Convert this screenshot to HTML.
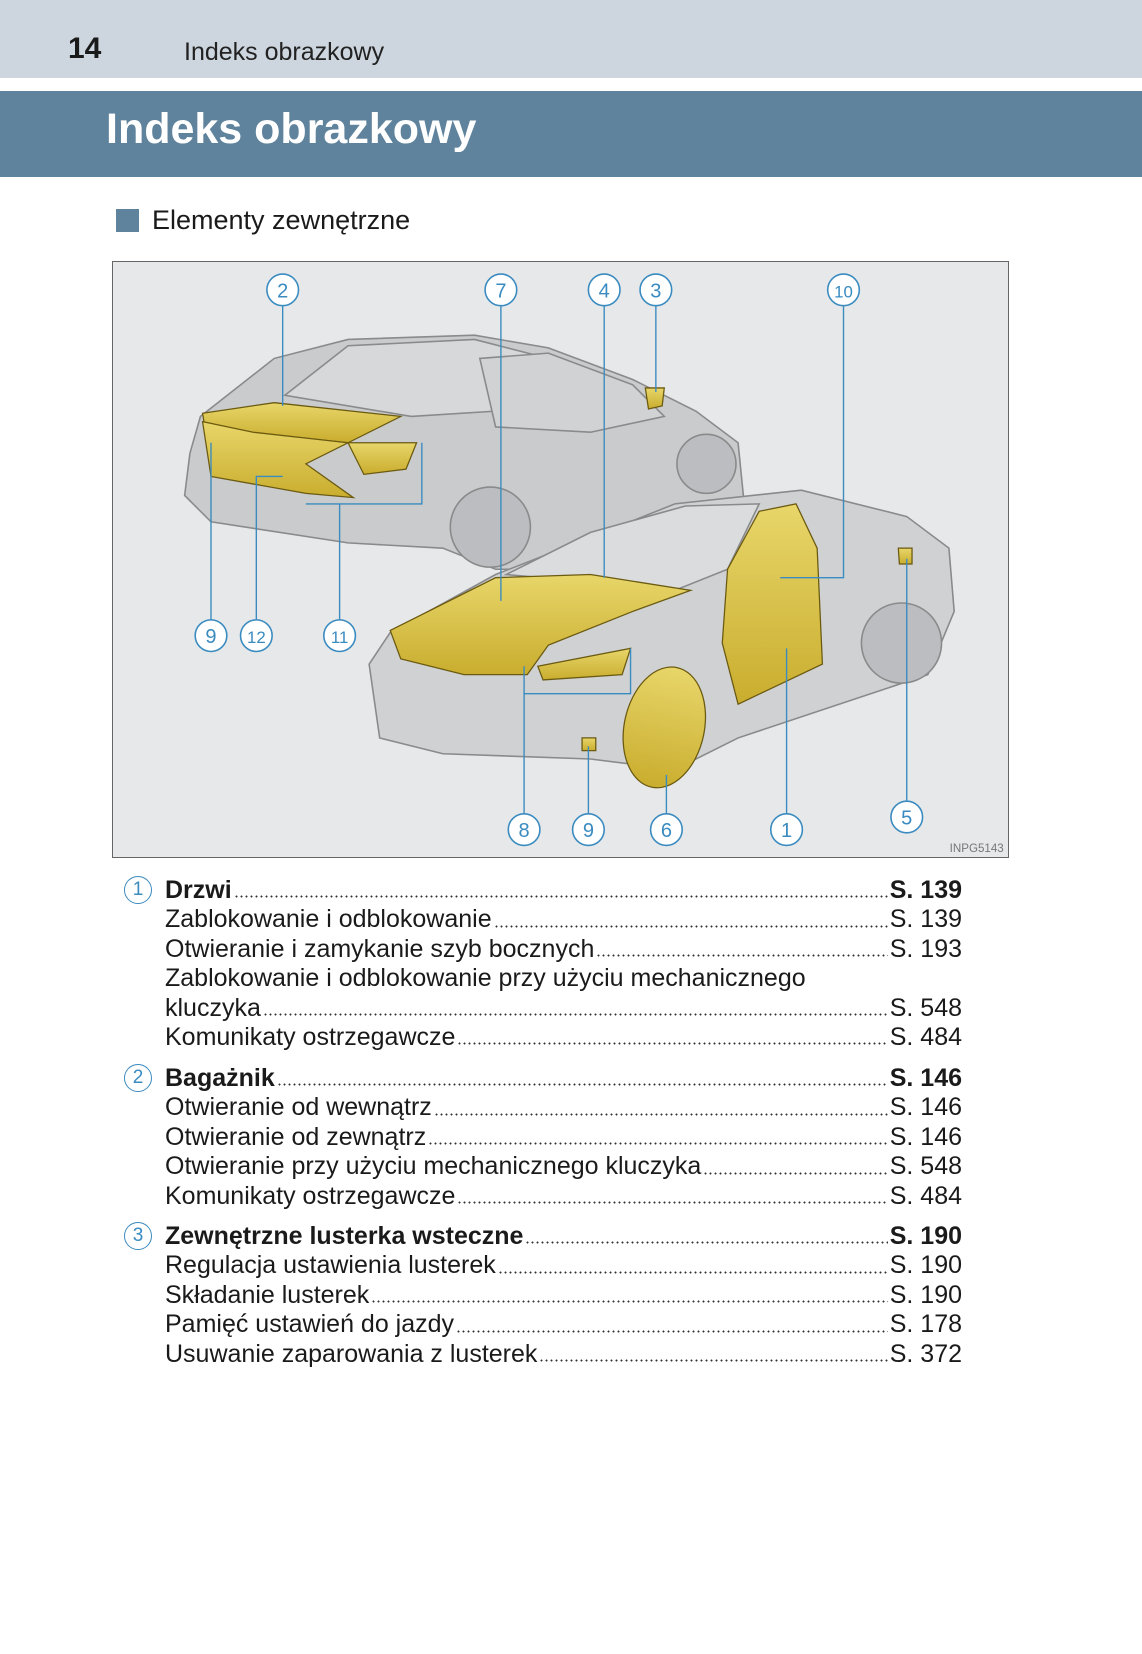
<!DOCTYPE html>
<html><head><meta charset="utf-8">
<style>
*{margin:0;padding:0;box-sizing:border-box}
body{width:1142px;height:1654px;background:#fff;position:relative;font-family:"Liberation Sans",sans-serif;color:#1a1a1a;overflow:hidden}
.top{position:absolute;left:0;top:0;width:1142px;height:78px;background:#cdd6df}
.pn{position:absolute;left:68px;top:34px;font-size:30px;font-weight:bold;line-height:1}
.ht{position:absolute;left:184px;top:40px;font-size:25px;line-height:1;color:#222}
.band{position:absolute;left:0;top:91px;width:1142px;height:86px;background:#5f839c}
.title{position:absolute;left:106px;top:108px;font-size:43px;font-weight:bold;color:#fff;line-height:1}
.sq{position:absolute;left:116px;top:209px;width:23px;height:23px;background:#5f839c}
.sec{position:absolute;left:152px;top:207px;font-size:27px;line-height:1}
.box{position:absolute;left:112px;top:261px;width:897px;height:597px;border:1.5px solid #666;background:#e6e8ea}
.list{position:absolute;left:165px;width:797px;font-size:25px;line-height:29.4px}
.row{display:flex;align-items:baseline;white-space:nowrap}
.row .d{flex:1;height:3px;margin:0 2px;align-self:flex-end;margin-bottom:7px;background:radial-gradient(circle,#333 0.9px,transparent 1.1px) 0 0/5px 3px repeat-x}
.b{font-weight:bold}
.c{position:absolute;left:-41px;width:28px;height:28px;border:1.5px solid #3a8bc0;border-radius:50%;color:#3a8bc0;font-size:19px;line-height:25px;text-align:center;font-weight:normal}
</style></head><body>
<div class="top"></div>
<div class="pn">14</div>
<div class="ht">Indeks obrazkowy</div>
<div class="band"></div>
<div class="title">Indeks obrazkowy</div>
<div class="sq"></div>
<div class="sec">Elementy zewnętrzne</div>
<div class="box"></div>
<svg style="position:absolute;left:0;top:0" width="1142" height="1654" viewBox="0 0 1083 1569">
<defs><linearGradient id="y" x1="0" y1="0" x2="0" y2="1"><stop offset="0" stop-color="#e8d66a"/><stop offset="1" stop-color="#c9ad2e"/></linearGradient></defs>
<g stroke="#8a8a8a" stroke-width="1.5">
<path d="M180,430 L190,395 L260,340 L330,322 L450,318 L520,330 L600,360 L660,390 L700,420 L705,470 L690,520 L600,540 L470,540 L420,520 L330,515 L200,495 L175,470 Z" fill="#c9cbcd"/>
<path d="M270,375 L330,328 L450,322 L520,340 L470,390 L390,395 Z" fill="#d6d8da"/>
<path d="M455,340 L520,335 L600,365 L630,395 L560,410 L470,405 Z" fill="#d0d2d4"/>
<circle cx="465" cy="500" r="38" fill="#bbbdc0"/>
<circle cx="670" cy="440" r="28" fill="#bbbdc0"/>
<path d="M350,630 L370,600 L470,545 L560,510 L640,478 L760,465 L860,490 L900,520 L905,580 L880,640 L820,660 L700,700 L640,730 L560,720 L420,715 L360,700 Z" fill="#cfd1d3"/>
<path d="M480,545 L560,505 L650,480 L720,478 L690,540 L640,560 L560,552 Z" fill="#dadcde"/>
<circle cx="855" cy="610" r="38" fill="#bbbdc0"/>
</g>
<g stroke="#6b5a10" stroke-width="1.2" fill="url(#y)">
<path d="M192,392 L260,382 L380,395 L330,420 L250,412 L195,410 Z"/>
<path d="M192,400 L240,410 L330,420 L290,440 L335,472 L290,468 L200,452 Z"/>
<path d="M330,420 L395,420 L385,445 L345,450 Z"/>
<path d="M370,598 L470,548 L560,545 L655,560 L600,580 L520,612 L500,640 L440,640 L380,625 Z"/>
<path d="M510,632 L598,615 L590,640 L515,645 Z"/>
<path d="M690,540 L720,485 L755,478 L775,520 L780,630 L700,668 L685,610 Z"/>
<ellipse cx="630" cy="690" rx="38" ry="58" transform="rotate(12 630 690)"/>
<path d="M612,368 L630,368 L628,385 L615,388 Z"/>
<path d="M852,520 L865,520 L865,535 L853,535 Z"/>
<path d="M552,700 L565,700 L565,712 L552,712 Z"/>
</g>
<g stroke="#3a8bc0" stroke-width="1.3" fill="none">
<path d="M268,290 V385 M475,290 V570 M573,290 V548 M622,290 V372 M800,290 V548 H740"/>
<path d="M200,588 V420 M243,588 V452 H268 M322,588 V478 H290 M322,478 H400 V420"/>
<path d="M497,772 V632 M497,658 H598 V615 M558,772 V708 M632,772 V735 M746,772 V615 M860,760 V530"/>
</g>
<g fill="#fff" stroke="#3a8bc0" stroke-width="1.5" font-family="Liberation Sans,sans-serif" font-size="19" text-anchor="middle">
<g><circle cx="268" cy="275" r="15"/><circle cx="475" cy="275" r="15"/><circle cx="573" cy="275" r="15"/><circle cx="622" cy="275" r="15"/><circle cx="800" cy="275" r="15"/><circle cx="200" cy="603" r="15"/><circle cx="243" cy="603" r="15"/><circle cx="322" cy="603" r="15"/><circle cx="497" cy="787" r="15"/><circle cx="558" cy="787" r="15"/><circle cx="632" cy="787" r="15"/><circle cx="746" cy="787" r="15"/><circle cx="860" cy="775" r="15"/></g>
<g fill="#3a8bc0" stroke="none"><text x="268" y="282">2</text><text x="475" y="282">7</text><text x="573" y="282">4</text><text x="622" y="282">3</text><text x="800" y="282" font-size="16">10</text><text x="200" y="610">9</text><text x="243" y="610" font-size="16">12</text><text x="322" y="610" font-size="16">11</text><text x="497" y="794">8</text><text x="558" y="794">9</text><text x="632" y="794">6</text><text x="746" y="794">1</text><text x="860" y="782">5</text></g>
</g>
<text x="952" y="808" font-family="Liberation Sans,sans-serif" font-size="11" fill="#777" text-anchor="end">INPG5143</text>
</svg>

<div class="list" style="top:876px">
<div class="row b" style="position:relative"><span class="c">1</span><span>Drzwi</span><span class="d"></span><span>S. 139</span></div>
<div class="row"><span>Zablokowanie i odblokowanie</span><span class="d"></span><span>S. 139</span></div>
<div class="row"><span>Otwieranie i zamykanie szyb bocznych</span><span class="d"></span><span>S. 193</span></div>
<div class="row"><span>Zablokowanie i odblokowanie przy użyciu mechanicznego</span></div>
<div class="row"><span>kluczyka</span><span class="d"></span><span>S. 548</span></div>
<div class="row"><span>Komunikaty ostrzegawcze</span><span class="d"></span><span>S. 484</span></div>
</div>
<div class="list" style="top:1064px">
<div class="row b" style="position:relative"><span class="c">2</span><span>Bagażnik</span><span class="d"></span><span>S. 146</span></div>
<div class="row"><span>Otwieranie od wewnątrz</span><span class="d"></span><span>S. 146</span></div>
<div class="row"><span>Otwieranie od zewnątrz</span><span class="d"></span><span>S. 146</span></div>
<div class="row"><span>Otwieranie przy użyciu mechanicznego kluczyka</span><span class="d"></span><span>S. 548</span></div>
<div class="row"><span>Komunikaty ostrzegawcze</span><span class="d"></span><span>S. 484</span></div>
</div>
<div class="list" style="top:1222px">
<div class="row b" style="position:relative"><span class="c">3</span><span>Zewnętrzne lusterka wsteczne</span><span class="d"></span><span>S. 190</span></div>
<div class="row"><span>Regulacja ustawienia lusterek</span><span class="d"></span><span>S. 190</span></div>
<div class="row"><span>Składanie lusterek</span><span class="d"></span><span>S. 190</span></div>
<div class="row"><span>Pamięć ustawień do jazdy</span><span class="d"></span><span>S. 178</span></div>
<div class="row"><span>Usuwanie zaparowania z lusterek</span><span class="d"></span><span>S. 372</span></div>
</div>
</body></html>
